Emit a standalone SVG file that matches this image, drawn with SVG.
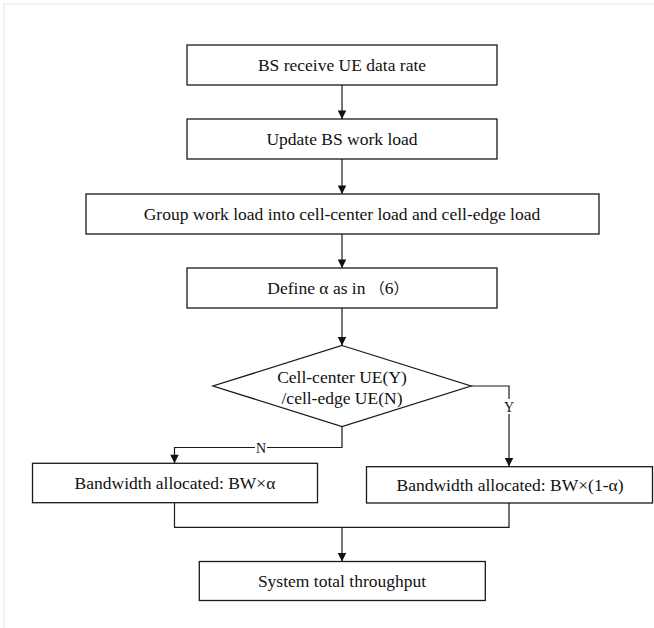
<svg xmlns="http://www.w3.org/2000/svg" width="654" height="628" viewBox="0 0 654 628">
<defs>
<marker id="arr" viewBox="0 0 10 10" refX="10" refY="5" markerWidth="10" markerHeight="8.5" markerUnits="userSpaceOnUse" orient="auto">
<path d="M0,0 L10,5 L0,10 z" fill="#111"/>
</marker>
<style>
.box{fill:#fff;stroke:#1a1a1a;stroke-width:1.3}
.t{font-family:'Liberation Serif','Times New Roman',serif;font-size:17.5px;fill:#111;text-anchor:middle}
.cjk{font-family:'Noto Sans CJK SC',sans-serif;font-size:15px}
.lbl{font-family:'Liberation Serif','Times New Roman',serif;font-size:14px;fill:#111;text-anchor:middle}
.c{fill:none;stroke:#1a1a1a;stroke-width:1.2}
</style>
</defs>
<rect x="0" y="0" width="654" height="628" fill="#fff"/>
<path d="M4,628 V4 H654" fill="none" stroke="#eeeeee" stroke-width="1.5"/>
<g id="connectors">
<path class="c" d="M342,85 V119" marker-end="url(#arr)"/>
<path class="c" d="M342,159 V194" marker-end="url(#arr)"/>
<path class="c" d="M342,234 V268" marker-end="url(#arr)"/>
<path class="c" d="M342,308 V345.5" marker-end="url(#arr)"/>
<path class="c" d="M471,386 H509 V399"/>
<path class="c" d="M509,414 V466.5" marker-end="url(#arr)"/>
<text class="lbl" x="509" y="411.5">Y</text>
<path class="c" d="M342,426.5 V447.5 H267"/>
<path class="c" d="M255,447.5 H174.5 V463.3" marker-end="url(#arr)"/>
<text class="lbl" x="261" y="452.5">N</text>
<path class="c" d="M174.5,502.7 V527.3 H509 V503"/>
<path class="c" d="M342,527.3 V561.5" marker-end="url(#arr)"/>
</g>
<g id="n1"><rect class="box" x="187" y="45" width="310" height="40"/><text class="t" x="342" y="71">BS receive UE data rate</text></g>
<g id="n2"><rect class="box" x="187" y="119" width="310" height="40"/><text class="t" x="342" y="145">Update BS work load</text></g>
<g id="n3"><rect class="box" x="86" y="194" width="513" height="40"/><text class="t" x="342" y="220">Group work load into cell-center load and cell-edge load</text></g>
<g id="n4"><rect class="box" x="187" y="268" width="310" height="40"/><text class="t" x="338" y="294">Define α as in <tspan class="cjk">（</tspan>6<tspan class="cjk">）</tspan></text></g>
<g id="d1"><polygon class="box" points="342,345.5 471,386 342,426.5 213,386"/><text class="t" x="342" y="382.5">Cell-center UE(Y)</text><text class="t" x="342" y="404">/cell-edge UE(N)</text></g>
<g id="n5"><rect class="box" x="32.5" y="463.3" width="285" height="39.4"/><text class="t" x="175" y="489">Bandwidth allocated: BW×α</text></g>
<g id="n6"><rect class="box" x="366.5" y="466.7" width="286" height="36.3"/><text class="t" x="510" y="491">Bandwidth allocated: BW×(1-α)</text></g>
<g id="n7"><rect class="box" x="199.3" y="561.5" width="286" height="39"/><text class="t" x="342" y="587">System total throughput</text></g>
</svg>
